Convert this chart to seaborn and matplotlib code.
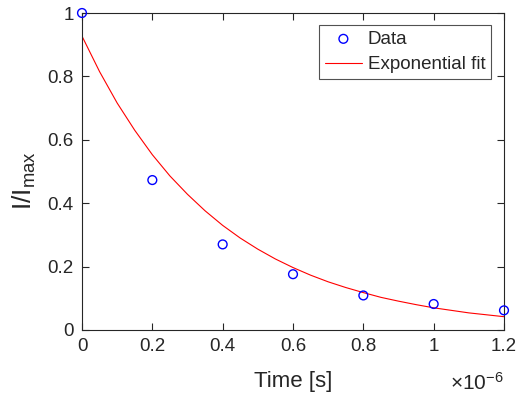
import matplotlib
matplotlib.use("Agg")
import matplotlib.pyplot as plt
import seaborn as sns
import pandas as pd

# Data (time in units of 1e-6 s)
data_time = [0.0, 0.2, 0.4, 0.6, 0.8, 1.0, 1.2]
data_intensity = [1.0, 0.473, 0.270, 0.176, 0.109, 0.082, 0.062]

# Exponential fit curve
fit_time = [0.0, 0.05, 0.1, 0.15, 0.2, 0.25, 0.3, 0.35, 0.4, 0.45, 0.5, 0.55, 0.6,
            0.65, 0.7, 0.75, 0.8, 0.85, 0.9, 0.95, 1.0, 1.05, 1.1, 1.15, 1.2]
fit_intensity = [0.927, 0.815, 0.716, 0.630, 0.553, 0.486, 0.428, 0.376, 0.330, 0.290,
                 0.255, 0.224, 0.197, 0.173, 0.152, 0.134, 0.118, 0.103, 0.091, 0.080,
                 0.070, 0.062, 0.054, 0.048, 0.042]

x_ticks = [0, 0.2, 0.4, 0.6, 0.8, 1.0, 1.2]
x_tick_labels = ["0", "0.2", "0.4", "0.6", "0.8", "1", "1.2"]
y_ticks = [0, 0.2, 0.4, 0.6, 0.8, 1.0]
y_tick_labels = ["0", "0.2", "0.4", "0.6", "0.8", "1"]

sns.set_style("ticks")
plt.rcParams["font.family"] = ["Liberation Sans", "DejaVu Sans"]
plt.rcParams["mathtext.fontset"] = "custom"
plt.rcParams["mathtext.rm"] = "Liberation Sans"
plt.rcParams["mathtext.it"] = "Liberation Sans"

axc = (0.15, 0.15, 0.15)

fig = plt.figure(figsize=(5.2, 4.01), dpi=100)
ax = fig.add_axes([82 / 520, 1 - 330 / 401, 422 / 520, 317 / 401])

df_data = pd.DataFrame({"t": data_time, "y": data_intensity})
df_fit = pd.DataFrame({"t": fit_time, "y": fit_intensity})

sns.lineplot(data=df_fit, x="t", y="y", ax=ax, color=(1, 0, 0), linewidth=0.8,
             label="Exponential fit", zorder=2)
sns.scatterplot(data=df_data, x="t", y="y", ax=ax, marker="o", s=40,
                facecolor="none", edgecolor=(0, 0, 1), linewidth=1.0,
                label="Data", clip_on=False, zorder=3)

ax.set_xlim(0, 1.2)
ax.set_ylim(0, 1)
ax.set_xticks(x_ticks)
ax.set_xticklabels(x_tick_labels)
ax.set_yticks(y_ticks)
ax.set_yticklabels(y_tick_labels)

for s in ax.spines.values():
    s.set_visible(True)
    s.set_color(axc)
    s.set_linewidth(0.8)
ax.tick_params(direction="in", length=5, width=0.8, color=axc, labelcolor=axc,
               labelsize=13.5, top=True, right=True, pad=6)

ax.set_xlabel("Time [s]", fontsize=16, color=axc)
ax.set_ylabel("I/I$_{\\mathrm{max}}$", fontsize=19, color=axc)
ax.xaxis.set_label_coords(0.5, -0.13)
ax.yaxis.set_label_coords(-0.104, 0.47)

fig.text(504 / 520, 1 - 390 / 401, "$\\times$10$^{-6}$", fontsize=15, color=axc,
         ha="right", va="baseline")

handles, labels = ax.get_legend_handles_labels()
order = [labels.index("Data"), labels.index("Exponential fit")]
leg = ax.legend([handles[i] for i in order], [labels[i] for i in order],
                loc="upper right", bbox_to_anchor=(491 / 520, 1 - 25 / 401),
                bbox_transform=fig.transFigure, borderaxespad=0, fontsize=13.5,
                frameon=True, fancybox=False, handlelength=2.0, handletextpad=0.3,
                borderpad=0.3, labelspacing=0.45)
leg.get_frame().set_edgecolor(axc)
leg.get_frame().set_linewidth(0.8)

fig.savefig("out.png", dpi=100)
